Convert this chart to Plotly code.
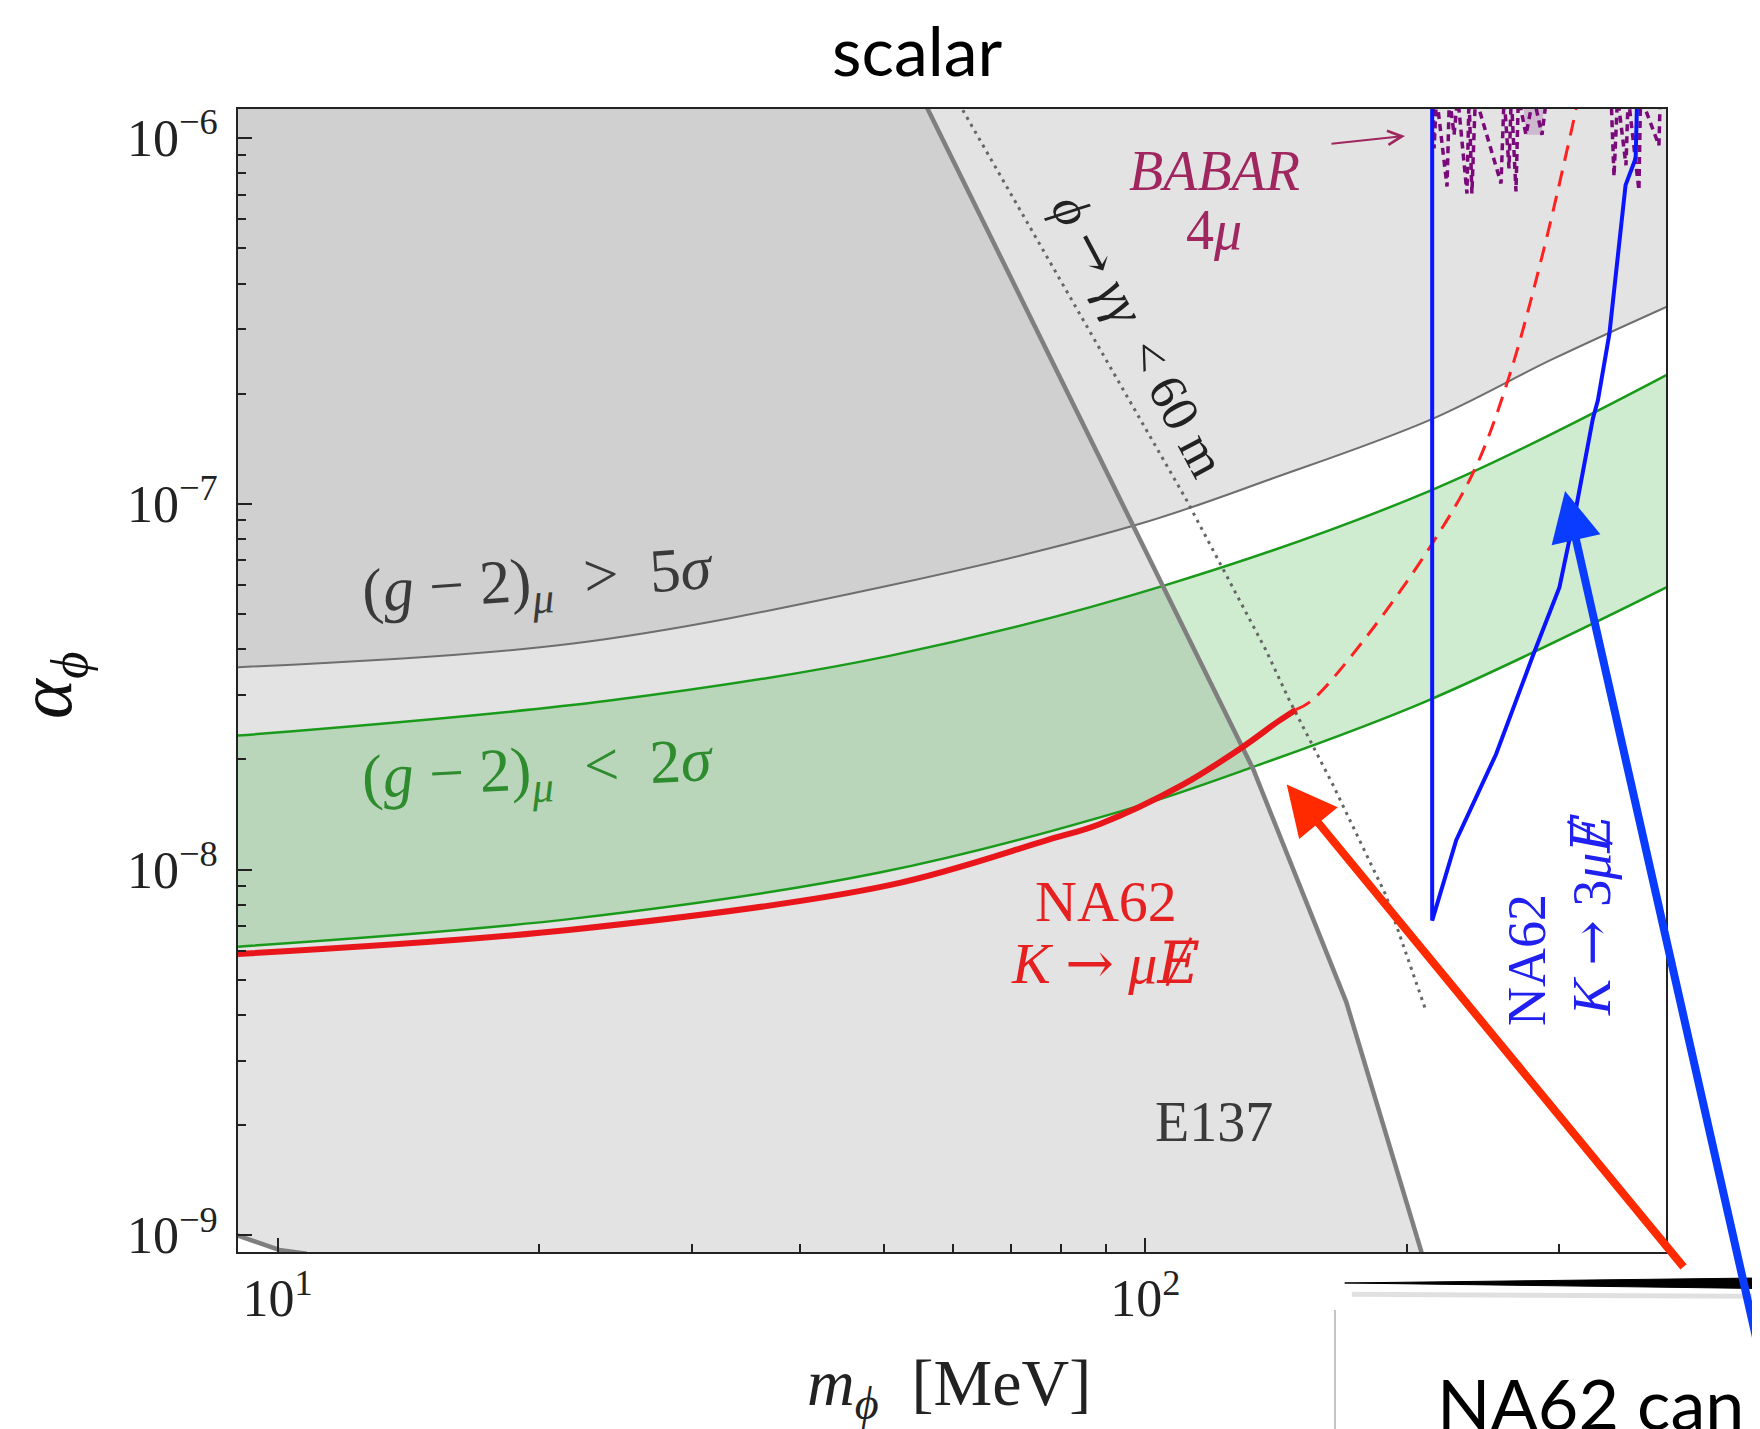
import math
import plotly.graph_objects as go

# ---------------- data (m in MeV, alpha) ----------------
G2_5S_M = [9.0, 21.9, 50.2, 97.9, 140.0, 212.5, 294.9, 398.3]
G2_5S_A = [3.575e-8, 4.15e-8, 5.95e-8, 8.77e-8, 1.172e-7, 1.693e-7, 2.488e-7, 3.452e-7]

G2_UP_M = [9.0, 24.0, 50.7, 105.5, 214.4, 398.3]
G2_UP_A = [2.323e-8, 2.892e-8, 3.838e-8, 5.99e-8, 1.093e-7, 2.246e-7]
G2_LO_M = [9.0, 21.9, 49.4, 95.1, 131.9, 211.2, 398.3]
G2_LO_A = [6.153e-9, 7.34e-9, 9.81e-9, 1.458e-8, 1.893e-8, 2.892e-8, 5.905e-8]

NA62_MU_M = [9.0, 21.9, 50.7, 77.2, 88.5, 110.3, 129.6, 142.5, 149.1]
NA62_MU_A = [5.877e-9, 6.855e-9, 9.06e-9, 1.205e-8, 1.33e-8, 1.703e-8, 2.167e-8, 2.549e-8, 2.735e-8]
NA62_MU_PROJ_M = [149.1, 155.4, 180.6, 214.4, 239.7, 261.8, 286.8, 313.6]
NA62_MU_PROJ_A = [2.735e-8, 2.894e-8, 4.39e-8, 7.83e-8, 1.244e-7, 2.184e-7, 4.8e-7, 1.2e-6]

NA62_3MU_M = [214.0, 214.0, 228.1, 253.6, 279.4, 300.0, 313.7, 327.8, 332.2, 342.5, 357.5, 367.2, 368.7]
NA62_3MU_A = [1.3e-6, 7.25e-9, 1.203e-8, 2.069e-8, 3.827e-8, 5.91e-8, 9.81e-8, 1.709e-7, 1.917e-7,
              2.917e-7, 7.43e-7, 8.8e-7, 1.3e-6]

E137_M = [55.3, 133.1, 170.4, 208.1, 209.5]
E137_A = [1.287e-6, 1.88e-8, 4.34e-9, 9.0e-10, 8.5e-10]
E137_LOW_M = [8.5, 9.0, 10.04, 10.8]
E137_LOW_A = [1.03e-9, 9.98e-10, 9.12e-10, 8.9e-10]

DECAY60_M = [60.3, 111.3, 137.7, 146.6, 164.5, 189.2, 210.5]
DECAY60_A = [1.30e-6, 1.032e-7, 3.976e-8, 2.892e-8, 1.702e-8, 8.52e-9, 4.11e-9]

BABAR_M = [214.5, 215.1, 216.5, 222.6, 224.0, 226.8, 229.0, 234.7, 236.0, 237.8, 240.0,
           256.9, 259.0, 262.4, 264.0, 267.3, 269.0, 274.5, 280.0, 286.4, 290.0, None,
           344.0, 346.7, 350.0, 357.9, 360.0, 370.4, 372.0, 390.6, 392.0]
BABAR_A = [1.3e-6, 9.37e-7, 1.3e-6, 7.37e-7, 1.3e-6, 1.02e-6, 1.3e-6, 7.05e-7, 1.3e-6, 7.05e-7, 1.3e-6,
           7.51e-7, 1.3e-6, 8.26e-7, 1.3e-6, 7.14e-7, 1.3e-6, 1.02e-6, 1.3e-6, 1.02e-6, 1.3e-6, None,
           1.3e-6, 7.85e-7, 1.3e-6, 8.42e-7, 1.3e-6, 7.19e-7, 1.3e-6, 9.55e-7, 1.3e-6]
BABAR_BOX_M = [272.0, 274.5, 286.4, 288.0]
BABAR_BOX_A = [1.3e-6, 1.02e-6, 1.02e-6, 1.3e-6]

X_RANGE = [9.0, 398.0]
Y_RANGE = [9.0e-10, 1.2e-6]
X_TICKS = [10, 100]
X_TICK_TEXT = ["10<sup>1</sup>", "10<sup>2</sup>"]
X_MINOR = [20, 30, 40, 50, 60, 70, 80, 90, 200, 300]
Y_TICKS = [1e-9, 1e-8, 1e-7, 1e-6]
Y_TICK_TEXT = ["10<sup>\u22129</sup>", "10<sup>\u22128</sup>", "10<sup>\u22127</sup>", "10<sup>\u22126</sup>"]
Y_MINOR = [k * 10.0 ** e for e in (-9, -8, -7) for k in range(2, 10)]

# ---------------- figure ----------------
SERIF = "Liberation Serif"
SANS = "Lato"
GRAY_FILL = "rgba(168,168,168,0.32)"
TOP = 2e-6
LEFT = 8.0
RIGHT = 420.0
ARROW = '<span style="font-family:DejaVu Serif">\u2192</span>'
EMISS = '<span style="font-family:DejaVu Serif"><i>\u0246</i></span>'

fig = go.Figure()

# E137 excluded region
e137_poly_m = E137_M + [E137_M[-1], E137_LOW_M[-1]] + E137_LOW_M[::-1] + [LEFT, LEFT]
e137_poly_a = E137_A + [E137_A[-1], E137_A[-1]] + E137_LOW_A[::-1] + [E137_LOW_A[0], TOP]
fig.add_trace(go.Scatter(x=e137_poly_m, y=e137_poly_a, mode="lines", fill="toself",
                         fillcolor=GRAY_FILL, line=dict(width=0), hoverinfo="skip"))

# (g-2) > 5 sigma excluded region
fig.add_trace(go.Scatter(x=[LEFT, RIGHT], y=[TOP, TOP], mode="lines", line=dict(width=0),
                         hoverinfo="skip"))
fig.add_trace(go.Scatter(x=G2_5S_M, y=G2_5S_A, mode="lines", fill="tonexty", fillcolor=GRAY_FILL,
                         line=dict(color="#6e6e6e", width=2, shape="spline"), hoverinfo="skip"))

# (g-2) < 2 sigma band
fig.add_trace(go.Scatter(x=G2_UP_M, y=G2_UP_A, mode="lines",
                         line=dict(color="#1a9a1a", width=2.5, shape="spline"), hoverinfo="skip"))
fig.add_trace(go.Scatter(x=G2_LO_M, y=G2_LO_A, mode="lines", fill="tonexty",
                         fillcolor="rgba(40,170,40,0.22)",
                         line=dict(color="#1a9a1a", width=2.5, shape="spline"), hoverinfo="skip"))

# BABAR
fig.add_trace(go.Scatter(x=BABAR_BOX_M, y=BABAR_BOX_A, mode="lines", fill="toself",
                         fillcolor="rgba(140,60,140,0.25)", line=dict(width=0), hoverinfo="skip"))
fig.add_trace(go.Scatter(x=BABAR_M, y=BABAR_A, mode="lines", connectgaps=False,
                         line=dict(color="#7a0a7a", width=3.5, dash="7px,5px"), hoverinfo="skip"))

# E137 boundary
fig.add_trace(go.Scatter(x=E137_M, y=E137_A, mode="lines",
                         line=dict(color="#7f7f7f", width=4.5), hoverinfo="skip"))
fig.add_trace(go.Scatter(x=E137_LOW_M, y=E137_LOW_A, mode="lines",
                         line=dict(color="#7f7f7f", width=4.5), hoverinfo="skip"))

# decay length < 60 m
fig.add_trace(go.Scatter(x=DECAY60_M, y=DECAY60_A, mode="lines",
                         line=dict(color="#666666", width=3, dash="3px,5px"), hoverinfo="skip"))

# NA62 K -> mu + missing E
fig.add_trace(go.Scatter(x=NA62_MU_PROJ_M, y=NA62_MU_PROJ_A, mode="lines",
                         line=dict(color="#ff2020", width=3, dash="16px,10px", shape="spline"),
                         hoverinfo="skip"))
fig.add_trace(go.Scatter(x=NA62_MU_M, y=NA62_MU_A, mode="lines",
                         line=dict(color="#e8161b", width=6, shape="spline"), hoverinfo="skip"))

# NA62 K -> 3 mu + missing E
fig.add_trace(go.Scatter(x=NA62_3MU_M, y=NA62_3MU_A, mode="lines",
                         line=dict(color="#0a14ff", width=4), hoverinfo="skip"))

axis_common = dict(type="log", showgrid=False, zeroline=False, showline=True, linecolor="#222",
                   linewidth=2, mirror=True, ticks="inside", ticklen=14, tickwidth=1.5,
                   tickcolor="#222", tickmode="array", automargin=False,
                   tickfont=dict(family=SERIF, size=52, color="#222"))

fig.update_xaxes(range=[math.log10(X_RANGE[0]), math.log10(X_RANGE[1])],
                 tickvals=X_TICKS, ticktext=X_TICK_TEXT, ticklabelstandoff=0,
                 minor=dict(ticks="inside", ticklen=8, tickwidth=1.5, tickcolor="#222",
                            tickmode="array", tickvals=X_MINOR),
                 **axis_common)
fig.update_yaxes(range=[math.log10(Y_RANGE[0]), math.log10(Y_RANGE[1])],
                 tickvals=Y_TICKS, ticktext=Y_TICK_TEXT, ticklabelstandoff=8,
                 minor=dict(ticks="inside", ticklen=8, tickwidth=1.5, tickcolor="#222",
                            tickmode="array", tickvals=Y_MINOR),
                 **axis_common)


def txt(text, x, y, size, color, angle=0, family=SERIF, **kw):
    return dict(text=text, x=x, y=y, xref="paper", yref="paper", showarrow=False,
                font=dict(family=family, size=size, color=color), textangle=angle,
                xanchor=kw.pop("xanchor", "center"), yanchor=kw.pop("yanchor", "middle"), **kw)


annotations = [
    txt("scalar", 0.476, 1.052, 68, "#000", family=SANS),
    txt("<i>\u03b1</i><sub><i>\u03d5</i></sub>", -0.131, 0.496, 76, "#111", angle=-90),
    txt("<i>m</i><sub><i>\u03d5</i></sub>  [MeV]", 0.498, -0.1185, 66, "#222"),
    txt("(<i>g</i> \u2212 2)<sub><i>\u03bc</i></sub>  &gt;  5<i>\u03c3</i>", 0.2103, 0.5848, 62,
        "#3a3a3a", angle=-4),
    txt("(<i>g</i> \u2212 2)<sub><i>\u03bc</i></sub>  &lt;  2<i>\u03c3</i>", 0.2103, 0.4198, 62,
        "#2e8b2e", angle=-3),
    txt("NA62", 0.6076, 0.3068, 58, "#e62020"),
    txt("<i>K</i> " + ARROW + " <i>\u03bc</i>" + EMISS, 0.6076, 0.2528, 58, "#e62020"),
    txt("E137", 0.6838, 0.1134, 56, "#3a3a3a"),
    txt("<i>BABAR</i>", 0.6838, 0.9461, 56, "#a0265f"),
    txt("4<i>\u03bc</i>", 0.6838, 0.8941, 56, "#a0265f"),
    txt("<i>\u03d5</i> " + ARROW + " <i>\u03b3\u03b3</i>  &lt; 60 m", 0.6311, 0.8027, 52, "#222",
        angle=62),
    txt("NA62", 0.9027, 0.2555, 54, "#2020f0", angle=-90),
    txt("<i>K</i> " + ARROW + " 3<i>\u03bc</i>" + EMISS, 0.9475, 0.2948, 54, "#2020f0", angle=-90),
    txt("NA62 can", 0.8382, -0.1321, 70, "#000", family=SANS, xanchor="left"),
    # BABAR arrow
    dict(text="", x=0.8172, y=0.9764, xref="paper", yref="paper", showarrow=True,
         ax=-75, ay=8, arrowhead=5, arrowsize=1.4, arrowwidth=2, arrowcolor="#a0265f"),
    # slide arrows
    dict(text="", x=0.7344, y=0.4091, xref="paper", yref="paper", showarrow=True,
         ax=398, ay=484, arrowhead=2, arrowsize=1.25, arrowwidth=8, arrowcolor="#ff2a00"),
    dict(text="", x=0.9293, y=0.6658, xref="paper", yref="paper", showarrow=True,
         ax=225, ay=864, arrowhead=2, arrowsize=1.25, arrowwidth=8, arrowcolor="#0a3cff"),
]

shapes = [
    dict(type="line", xref="paper", yref="paper", x0=0.78, y0=-0.037, x1=1.1, y1=-0.039,
         line=dict(color="rgba(0,0,0,0.12)", width=5)),
    dict(type="path", xref="paper", yref="paper",
         path="M 0.775,-0.0271 L 1.1,-0.0325 L 1.1,-0.0222 Z",
         fillcolor="#000", line=dict(color="#000", width=1)),
    dict(type="line", xref="paper", yref="paper", x0=0.7682, y0=-0.0507, x1=0.7682, y1=-0.17,
         line=dict(color="#c4c4c4", width=2)),
]

# the page body adds an 8 px margin, so the figure is 8 px smaller than the window
fig.update_layout(width=1752, height=1421, margin=dict(l=230, r=94, t=101, b=177),
                  paper_bgcolor="white", plot_bgcolor="white", showlegend=False,
                  annotations=annotations, shapes=shapes)

fig.write_html("out.html")
